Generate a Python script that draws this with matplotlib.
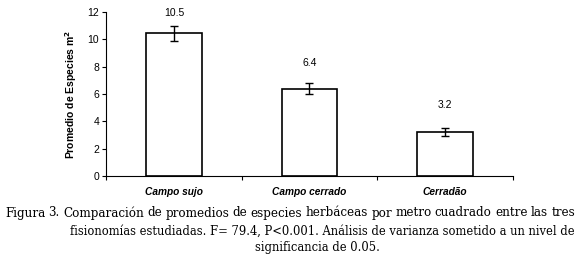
import matplotlib
matplotlib.use("Agg")
import matplotlib.pyplot as plt

# data
categories = ["Campo sujo", "Campo cerrado", "Cerradão"]
means = [10.45, 6.4, 3.2]
errors = [0.55, 0.4, 0.3]
labels = ["10.5", "6.4", "3.2"]

fig = plt.figure(figsize=(5.8, 2.56), dpi=100)
ax = fig.add_axes([0.183, 0.3125, 0.701, 0.6405])

pos = [i + 0.5 for i in range(len(categories))]
ax.bar(pos, means, width=0.41, color="white", edgecolor="black", linewidth=1.2)
ax.errorbar(pos, means, yerr=errors, fmt="none", ecolor="black",
            elinewidth=1, capsize=3, capthick=1)

# value labels above bars
offsets = [1.5, 1.85, 2.0]
for p, m, lab, off in zip(pos, means, labels, offsets):
    ax.text(p, m + off, lab, ha="center", va="center", fontsize=7.5,
            family="Liberation Sans")

ax.set_xlim(0, 3)
ax.set_ylim(0, 12)
ax.set_yticks(range(0, 13, 2))
ax.set_xticks([0, 1, 2, 3])
ax.set_xticklabels([])
ax.set_xticks(pos, minor=True)
ax.set_xticklabels(categories, minor=True, fontsize=7.3, fontweight="bold",
                   fontstyle="italic", family="Liberation Sans")
ax.tick_params(axis="x", which="minor", length=0, pad=8)
ax.tick_params(axis="x", which="major", length=3, direction="out")
ax.tick_params(axis="y", length=3, labelsize=7.5, pad=2)
for t in ax.get_yticklabels():
    t.set_family("Liberation Sans")
ax.spines["top"].set_visible(False)
ax.spines["right"].set_visible(False)
ax.spines["left"].set_linewidth(0.8)
ax.spines["bottom"].set_linewidth(0.8)
ax.set_ylabel("Promedio de Especies m$^\\mathbf{2}$", fontsize=7.5,
              fontweight="bold", family="Liberation Sans", labelpad=6)

# caption
cap = dict(family="DejaVu Serif", fontsize=8.3, va="center")

# first line is justified between x=5 px and x=575 px
line1 = "Figura 3. Comparación de promedios de especies herbáceas por metro cuadrado entre las tres"
words = line1.split()
renderer = fig.canvas.get_renderer()
arts = [fig.text(0, 1 - 213 / 256, w, family="DejaVu Serif", fontsize=8.55,
                 va="center") for w in words]
widths = [a.get_window_extent(renderer).width for a in arts]
x0, x1 = 5, 575
gap = (x1 - x0 - sum(widths)) / (len(words) - 1)
x = x0
for a, w in zip(arts, widths):
    a.set_x(x / 580)
    x += w + gap

fig.text(0.991, 1 - 231 / 256,
         "fisionomías estudiadas. F= 79.4, P<0.001. Análisis de varianza sometido a un nivel de",
         ha="right", **cap)
fig.text(317 / 580, 1 - 248 / 256, "significancia de 0.05.", ha="center", **cap)

fig.savefig("out.png", dpi=100)
